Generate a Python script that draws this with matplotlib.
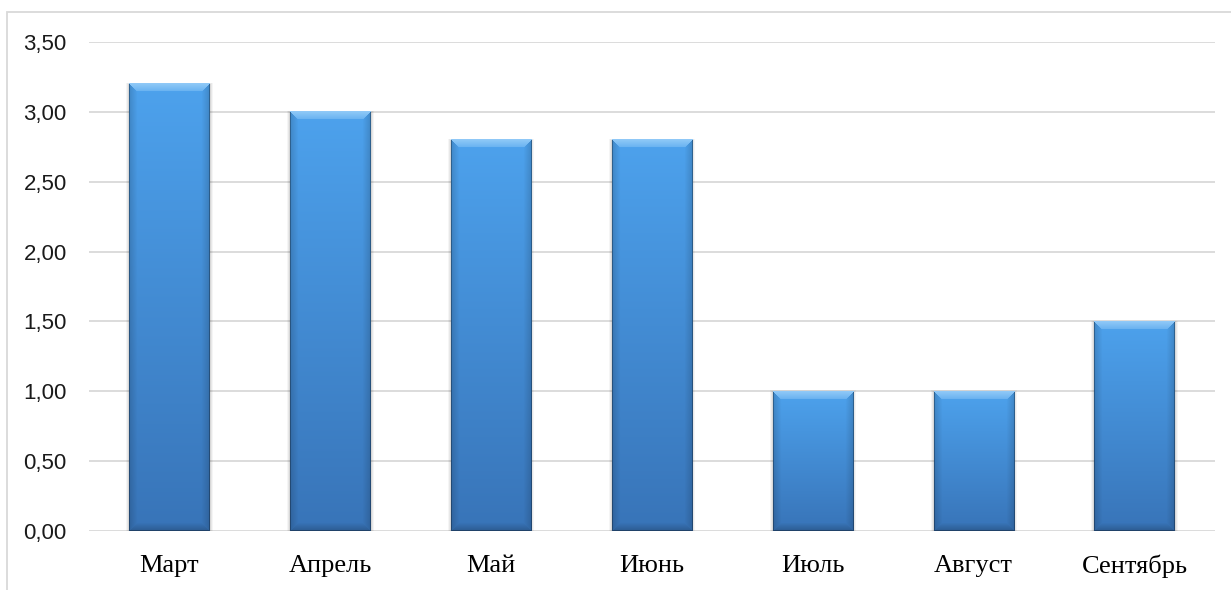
import matplotlib.pyplot as plt
import numpy as np
from matplotlib.patches import Rectangle
from matplotlib.ticker import FuncFormatter

months = ['Март', 'Апрель', 'Май', 'Июнь', 'Июль', 'Август', 'Сентябрь']
values = [3.2, 3.0, 2.8, 2.8, 1.0, 1.0, 1.5]
y_ticks = [0, 0.5, 1.0, 1.5, 2.0, 2.5, 3.0, 3.5]

W, H, DPI = 1231, 590, 100
ax_left, ax_right, ax_bottom, ax_top = 89, 1215, 531, 42
bar_width = 0.5


def hex_rgb(h):
    h = h.lstrip('#')
    return np.array([int(h[i:i + 2], 16) / 255 for i in (0, 2, 4)])


def bevel_image(nx, ny, b=8):
    # vertical gradient body with soft bevelled edges
    top_c, bot_c = hex_rgb('#4da2ed'), hex_rgb('#3874b8')
    t = np.linspace(0, 1, ny)[:, None, None]
    img = top_c * (1 - t) + bot_c * t
    img = np.repeat(img, nx, axis=1).copy()
    ii, jj = np.mgrid[0:ny, 0:nx]
    d = np.stack([ii, jj, nx - 1 - jj, ny - 1 - ii]).astype(float)
    face = np.argmin(d, axis=0)
    dmin = d.min(axis=0)
    inside = dmin < b
    w = np.clip(1 - dmin / b, 0, 1)[..., None]
    light = hex_rgb('#a6d6fb')

    top_face = ((face == 0) & inside)[..., None]
    wt = 0.3 + 0.45 * w
    img = np.where(top_face, img * (1 - wt) + light * wt, img)
    side = (((face == 1) | (face == 2)) & inside)[..., None]
    img = np.where(side, img * (1 - 0.15 * w), img)
    bot = ((face == 3) & inside)[..., None]
    img = np.where(bot, img * (1 - 0.2 * w), img)
    # thin dark outline on sides and bottom
    edge = ((dmin < 1) & (face != 0))[..., None]
    img = np.where(edge, img * 0.72, img)
    return np.clip(img, 0, 1)


fig = plt.figure(figsize=(W / DPI, H / DPI), dpi=DPI)
ax = fig.add_axes([ax_left / W, (H - ax_bottom) / H,
                   (ax_right - ax_left) / W, (ax_bottom - ax_top) / H])

x = np.arange(len(months))
px_x = (ax_right - ax_left) / len(months)
px_y = (ax_bottom - ax_top) / 3.5

bars = ax.bar(x, values, width=bar_width, color='#4a95dc', zorder=2)
for rect, v in zip(bars, values):
    nx = int(round(bar_width * px_x))
    ny = max(int(round(v * px_y)), 2)
    x0 = rect.get_x()
    ax.imshow(bevel_image(nx, ny), extent=(x0, x0 + bar_width, 0, v),
              aspect='auto', interpolation='bilinear', zorder=3)
    # faint shadow around the bar
    for k, a in [(3, 0.04), (2, 0.05), (1, 0.07)]:
        ax.add_patch(Rectangle((x0 - k / px_x, 0), bar_width + 2 * k / px_x,
                               v + k / px_y * 0.3, facecolor='#000000',
                               alpha=a, zorder=1.9, lw=0))

ax.set_xlim(-0.5, len(months) - 0.5)
ax.set_ylim(0, 3.5)

ax.set_yticks(y_ticks)
ax.yaxis.set_major_formatter(FuncFormatter(lambda v, p: f'{v:.2f}'.replace('.', ',')))
ax.set_xticks(x)
ax.set_xticklabels(months, fontfamily='Liberation Serif', fontsize=19)
for lab in ax.get_yticklabels():
    lab.set_fontfamily('Liberation Sans')
    lab.set_fontsize(16)
    lab.set_color('#1a1a1a')

ax.tick_params(axis='y', length=0, pad=16)
ax.tick_params(axis='x', length=0, pad=17)
ax.grid(axis='y', color='#d9d9d9', linewidth=1.3, zorder=0)
ax.set_axisbelow(True)
for s in ax.spines.values():
    s.set_visible(False)

# outer chart frame, only the top and left edges fall inside the image
fig.patches.append(Rectangle((7 / W, -0.1), 1.2, (H - 12) / H + 0.1,
                             transform=fig.transFigure, fill=False,
                             edgecolor='#d9d9d9', linewidth=1.3))

fig.savefig('out.png', dpi=DPI)
